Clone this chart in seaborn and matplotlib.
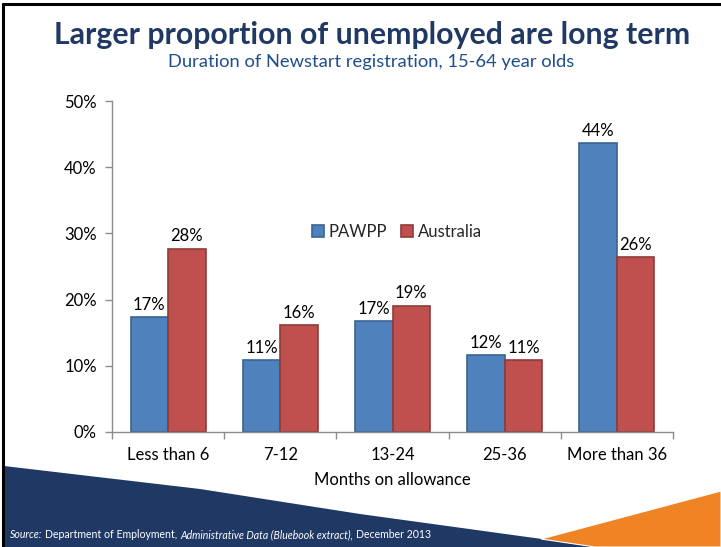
import matplotlib
matplotlib.use("Agg")
import matplotlib.pyplot as plt
from matplotlib.patches import Polygon
from matplotlib.lines import Line2D
from matplotlib.ticker import FuncFormatter, FixedLocator
import seaborn as sns
import pandas as pd

# Duration of Newstart registration (% of 15-64 year olds on allowance)
categories = ["Less than 6", "7-12", "13-24", "25-36", "More than 36"]
pawpp = [17.3, 10.9, 16.8, 11.6, 43.7]
australia = [27.7, 16.2, 19.1, 10.9, 26.4]
series_names = ["PAWPP", "Australia"]
y_ticks = [0, 10, 20, 30, 40, 50]

BLUE = "#4F81BD"
RED = "#C0504D"
BLUE_EDGE = "#3B6394"
RED_EDGE = "#8E3B39"
NAVY = "#1F3864"
ORANGE = "#F08424"
FONT = "Lato"

df = pd.DataFrame({
    "Months": categories * 2,
    "Share": pawpp + australia,
    "Region": [series_names[0]] * len(categories) + [series_names[1]] * len(categories),
})

sns.set_theme(style="white")
plt.rcParams["font.family"] = [FONT, "DejaVu Sans"]

W, H = 721, 547
fig = plt.figure(figsize=(W / 100, H / 100), dpi=100)
fig.patch.set_facecolor("white")

def fx(x):
    return x / W

def fy(y):
    return 1 - y / H

ax = fig.add_axes([fx(112), fy(432), fx(673) - fx(112), fy(101) - fy(432)])
ax.set_facecolor("none")

sns.barplot(data=df, x="Months", y="Share", hue="Region", order=categories,
            hue_order=series_names, palette=[BLUE, RED], width=0.67,
            saturation=1, ax=ax, legend=False)

edge_colors = [BLUE_EDGE, RED_EDGE]
for container, ec in zip(ax.containers, edge_colors):
    for bar in container:
        bar.set_edgecolor(ec)
        bar.set_linewidth(1.2)
    ax.bar_label(container, labels=[f"{v:.0f}%" for v in container.datavalues],
                 padding=3, fontsize=12, color="black")

ax.set_ylim(0, 50)
ax.set_xlim(-0.5, len(categories) - 0.5)
ax.yaxis.set_major_locator(FixedLocator(y_ticks))
ax.yaxis.set_major_formatter(FuncFormatter(lambda v, p: f"{v:.0f}%"))
ax.set_xticks(range(len(categories)))
ax.set_xticklabels(categories)
ax.set_xticks([i - 0.5 for i in range(len(categories) + 1)], minor=True)

axis_gray = "#8C8C8C"
for side in ["top", "right"]:
    ax.spines[side].set_visible(False)
for side in ["left", "bottom"]:
    ax.spines[side].set_color(axis_gray)
    ax.spines[side].set_linewidth(1)

ax.tick_params(axis="y", which="major", direction="out", length=5, width=1,
               color=axis_gray, labelsize=12, labelcolor="black", pad=6, left=True)
ax.tick_params(axis="x", which="major", length=0, labelsize=12,
               labelcolor="black", pad=11)
ax.tick_params(axis="x", which="minor", direction="out", length=5, width=1,
               color=axis_gray, bottom=True)
ax.set_xlabel("Months on allowance", fontsize=12, color="black", labelpad=6)
ax.set_ylabel("")

handles = [plt.Rectangle((0, 0), 1, 1, facecolor=c, edgecolor=e, linewidth=1.2)
           for c, e in zip([BLUE, RED], edge_colors)]
fig.legend(handles, series_names, loc="center", bbox_to_anchor=(fx(397), fy(232)),
           ncol=2, frameon=False, fontsize=12, handlelength=0.7, handleheight=0.7,
           handletextpad=0.3, columnspacing=0.85)

# Title block
fig.text(fx(372), fy(35), "Larger proportion of unemployed are long term",
         ha="center", va="center", fontsize=21.8, fontweight="bold", color=NAVY)
fig.text(fx(371), fy(62), "Duration of Newstart registration, 15-64 year olds",
         ha="center", va="center", fontsize=13.2, color="#1F4E8C")

# Slide frame lines on the left and top
fig.add_artist(Line2D([fx(3), fx(3)], [0, fy(4)], transform=fig.transFigure,
                      color="black", linewidth=2.2))
fig.add_artist(Line2D([fx(3), 1], [fy(4), fy(4)], transform=fig.transFigure,
                      color="black", linewidth=2.2))

# Footer bands
navy_pts = [(4, 466), (200, 489), (360, 514), (600, 547), (4, 547)]
fig.patches.append(Polygon([(fx(x), fy(y)) for x, y in navy_pts], closed=True,
                           transform=fig.transFigure, facecolor=NAVY,
                           edgecolor="none", zorder=-1))
orange_pts = [(541, 539), (721, 491), (721, 547), (595, 547)]
fig.patches.append(Polygon([(fx(x), fy(y)) for x, y in orange_pts], closed=True,
                           transform=fig.transFigure, facecolor=ORANGE,
                           edgecolor="white", linewidth=0.8, zorder=-1))

# Source line, built from regular and italic pieces separated by word gaps
pieces = [("Source:", "italic"), ("Department of Employment,", "normal"),
          ("Administrative Data (Bluebook extract),", "italic"),
          ("December 2013", "normal")]
fig.canvas.draw()
renderer = fig.canvas.get_renderer()
x_px = 10
gap_px = 3
for txt, style in pieces:
    t = fig.text(fx(x_px), fy(535), txt, ha="left", va="center", fontsize=7.6,
                 style=style, color="white")
    bb = t.get_window_extent(renderer=renderer)
    x_px += bb.width + gap_px

fig.savefig("out.png", dpi=100, facecolor="white")
